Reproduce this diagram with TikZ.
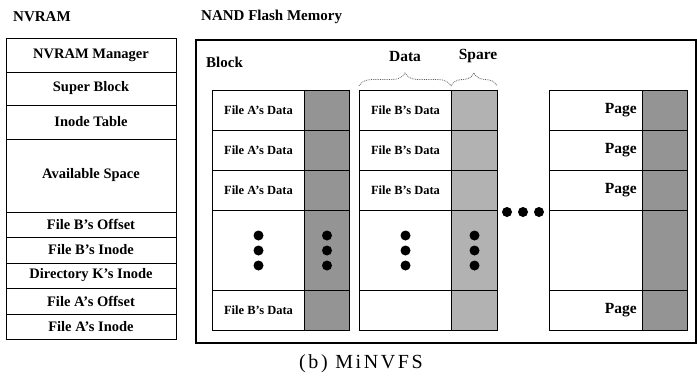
\documentclass[tikz,border=0pt]{standalone}
\usepackage{fontspec}
\setmainfont{Liberation Serif}
\usetikzlibrary{decorations.pathreplacing}
\definecolor{sparegray}{gray}{0.58}
\definecolor{sparelight}{gray}{0.70}
\begin{document}
\begin{tikzpicture}[x=1pt,y=-1pt,
  heading/.style={font=\bfseries\fontsize{15}{17}\selectfont, inner sep=0},
  nvrow/.style={draw, line width=1pt, minimum width=170pt, inner sep=0,
    font=\bfseries\fontsize{14.5}{16}\selectfont},
  frame/.style={draw, line width=1.1pt, inner sep=0},
  datacell/.style={draw, line width=1pt, fill=white, anchor=north west, inner sep=0,
    font=\bfseries\fontsize{12.5}{14}\selectfont},
  sparecell/.style={draw, line width=1pt, anchor=north west, inner sep=0},
  pagetext/.style={anchor=east, inner sep=0, font=\bfseries\fontsize{15.5}{17}\selectfont},
  blob/.style={circle, fill=black, inner sep=0, minimum size=10pt},
  bracket/.style={decorate, decoration={brace, amplitude=13pt}, densely dotted,
    black!65, line width=0.8pt},
]
\useasboundingbox (0,0) rectangle (697,378);

% headings
\node[heading, anchor=west] (nvtitle) at (13,17) {NVRAM};
\node[heading, anchor=west] (nandtitle) at (201,17) {NAND Flash Memory};

% NVRAM layout, one row per region
\node[nvrow, minimum height=34pt] (mgr)   at (91,55)    {NVRAM Manager};
\node[nvrow, minimum height=33pt] (sb)    at (91,88.5)  {Super Block};
\node[nvrow, minimum height=34pt] (itab)  at (91,122)   {Inode Table};
\node[nvrow, minimum height=73pt] (avail) at (91,175.5) {Available Space};
\node[nvrow, minimum height=25pt] (boff)  at (91,224.5) {File B’s Offset};
\node[nvrow, minimum height=26pt] (bino)  at (91,250)   {File B’s Inode};
\node[nvrow, minimum height=25pt] (dirk)  at (91,275.5) {Directory K’s Inode};
\node[nvrow, minimum height=26pt] (aoff)  at (91,301)   {File A’s Offset};
\node[nvrow, minimum height=25pt] (aino)  at (91,326.5) {File A’s Inode};

% NAND flash frame
\node[frame, minimum width=500pt, minimum height=303pt] (nand) at (446,191.5) {};
\node[heading, anchor=west] (blocklbl) at (206,62) {Block};

% blocks: data column and spare column, five rows each
\foreach \b/\L/\D/\R/\ta/\tb/\sc in
  {1/212/304/349/{File A’s Data}/{File B’s Data}/sparegray,
   2/359/451/497/{File B’s Data}/{}/sparelight,
   3/549/642/687/{}/{}/sparegray} {
  \pgfmathsetmacro\cellw{\D-\L}
  \pgfmathsetmacro\sparew{\R-\D}
  \foreach \r/\top/\h in {1/90/40, 2/130/40, 3/170/40, 4/210/80, 5/290/40} {
    \node[sparecell, fill=\sc, minimum width=\sparew pt, minimum height=\h pt]
      (b\b s\r) at (\D,\top) {};
  }
  \foreach \r/\top in {1/90, 2/130, 3/170}
    \node[datacell, minimum width=\cellw pt, minimum height=40pt] (b\b d\r) at (\L,\top) {\ta};
  \node[datacell, minimum width=\cellw pt, minimum height=80pt] (b\b d4) at (\L,210) {};
  \node[datacell, minimum width=\cellw pt, minimum height=40pt] (b\b d5) at (\L,290) {\tb};
}

% page labels of the last block
\foreach \r in {1,2,3,5}
  \node[pagetext] (pg\r) at ([xshift=-6pt]b3d\r.east) {Page};

% vertical ellipses inside the first two blocks
\foreach \b in {1,2} {
  \foreach \k/\dy in {1/-15, 2/0, 3/15} {
    \node[blob] (vd\b\k) at ([yshift=\dy pt]b\b d4.center) {};
    \node[blob] (vs\b\k) at ([yshift=\dy pt]b\b s4.center) {};
  }
}

% horizontal ellipsis between blocks
\node[blob] (hd1) at (507,212) {};
\node[blob] (hd2) at (523,212) {};
\node[blob] (hd3) at (539,212) {};

% data / spare braces
\coordinate (brA) at (359,86);
\coordinate (brB) at (451,86);
\coordinate (brC) at (497,86);
\draw[bracket] (brA) -- (brB);
\draw[bracket] (brB) -- (brC);
\node[heading, font=\bfseries\fontsize{15.5}{17}\selectfont] (datalbl) at (405,56) {Data};
\node[heading, font=\bfseries\fontsize{15.5}{17}\selectfont] (sparelbl) at (478,56) {Spare};

% caption
\node[inner sep=0, font=\fontsize{20}{22}\selectfont\addfontfeature{LetterSpace=13}]
  (caption) at (361,364) {(b) MiNVFS};
\end{tikzpicture}
\end{document}
